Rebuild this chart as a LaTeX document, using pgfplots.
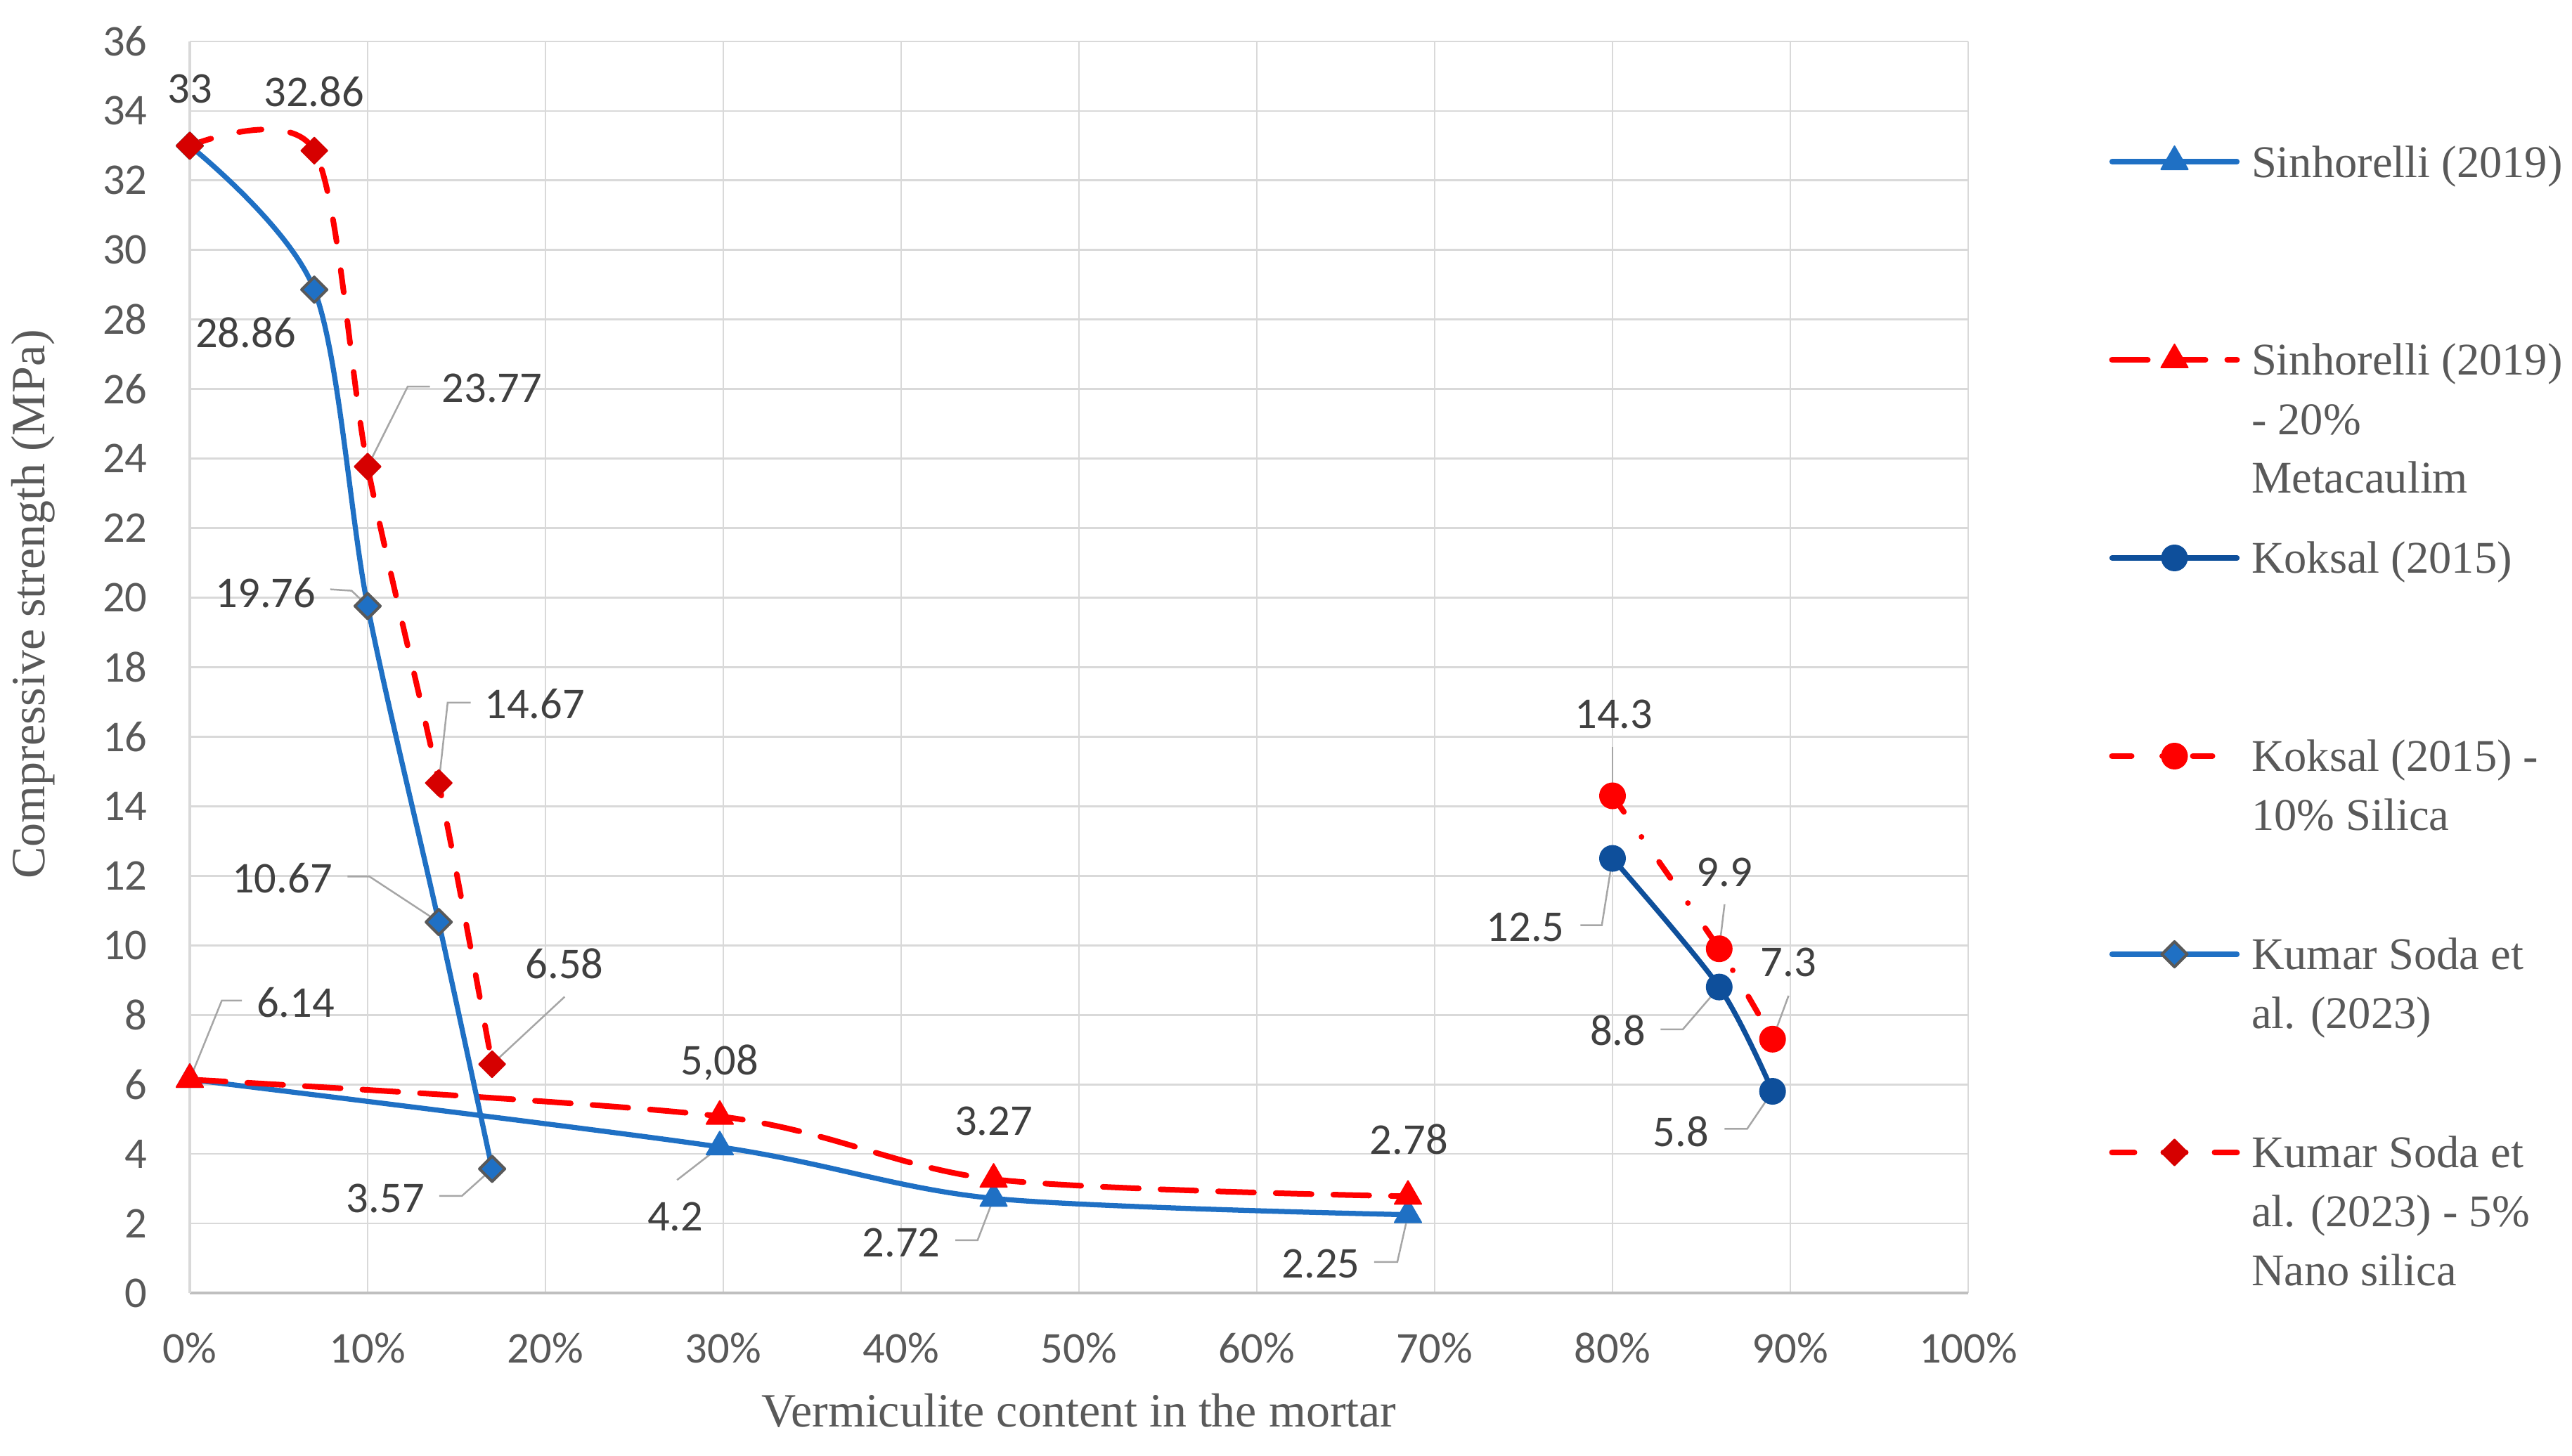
\documentclass[border=0pt]{standalone}
\usepackage{pgfplots}
\pgfplotsset{compat=1.18}
\usepackage{fontspec}
\setmainfont{Liberation Serif}
\newfontfamily\carlito{Carlito}
\definecolor{sblue}{RGB}{31,112,196}
\definecolor{kblue}{RGB}{14,79,155}
\definecolor{myred}{RGB}{255,0,0}
\definecolor{dred}{RGB}{214,0,0}
\definecolor{gridgray}{RGB}{217,217,217}
\definecolor{axisgray}{RGB}{191,191,191}
\definecolor{tickgray}{RGB}{89,89,89}
\definecolor{labgray}{RGB}{64,64,64}
\definecolor{leadgray}{RGB}{166,166,166}
\definecolor{diagray}{RGB}{89,89,89}
\newcommand\lgd[1]{\parbox[t]{100pt}{\raggedright\strut #1}}
\begin{document}
\begin{tikzpicture}[
  lab/.style={font=\carlito\fontsize{12.5}{15}\selectfont, text=labgray, inner sep=0pt, anchor=center, text depth=0pt},
  leader/.style={draw=leadgray, line width=0.5pt}]
\begin{axis}[
  at={(0pt,0pt)}, anchor=south west,
  scale only axis, width=506pt, height=356.2pt,
  xmin=0, xmax=100, ymin=0, ymax=36,
  clip=false,
  axis x line*=bottom, axis y line*=left,
  x axis line style={draw=axisgray, line width=0.9pt, -},
  y axis line style={draw=gridgray, line width=0.7pt, -},
  xtick={0,10,...,100},
  xticklabels={0\%,10\%,20\%,30\%,40\%,50\%,60\%,70\%,80\%,90\%,100\%},
  ytick={0,2,...,36},
  major tick length=0pt,
  grid=major,
  major grid style={draw=gridgray, line width=0.55pt},
  /pgf/number format/assume math mode=true,
  ticklabel style={font=\carlito\fontsize{12.5}{15}\selectfont, text=tickgray, inner sep=0pt},
  xticklabel style={anchor=base, yshift=-20pt},
  yticklabel style={anchor=east, xshift=-11.9pt},
  xlabel={Vermiculite content in the mortar},
  ylabel={Compressive strength (MPa)},
  label style={font=\fontsize{13.6}{16}\selectfont, text=tickgray, inner sep=0pt},
  xlabel style={at={(axis description cs:0.5,-0.10724)}, anchor=base},
  ylabel style={at={(axis description cs:-0.08142,0.5503)}, anchor=base},
  legend style={
    at={(axis description cs:1.07925,0.92476)}, anchor=north west,
    draw=none, fill=none, inner sep=0pt, outer sep=0pt,
    row sep=0pt, column sep=3.3pt,
    font=\fontsize{12.9}{16.8}\selectfont, text=tickgray,
    nodes={inner sep=0pt, outer sep=0pt, text height=11.8pt, text depth=44.6pt},
    cells={anchor=base west},
  },
  legend image code/.code={\draw[mark repeat=2,mark phase=2] plot coordinates {(0pt,4.4pt) (17.8pt,4.4pt) (35.6pt,4.4pt)};},
]
\addplot[sblue, line width=1.45pt, smooth, line cap=round, line join=round, mark=triangle*, mark size=4.4pt, mark options={solid, fill=sblue, draw=sblue, line width=0.4pt}]
  coordinates {(0,6.14) (29.8,4.2) (45.2,2.72) (68.5,2.25)};
\addlegendentry{\lgd{Sinhorelli (2019)}}
\addplot[myred, line width=1.6pt, smooth, line cap=round, line join=round, dash pattern=on 10.2pt off 6.2pt, mark=triangle*, mark size=4.4pt, mark options={solid, fill=myred, draw=myred, line width=0.4pt}]
  coordinates {(0,6.14) (29.8,5.08) (45.2,3.27) (68.5,2.78)};
\addlegendentry{\lgd{Sinhorelli (2019)\\- 20\%\\Metacaulim}}
\addplot[kblue, line width=1.45pt, smooth, line cap=round, line join=round, mark=*, mark size=3.6pt, mark options={solid, fill=kblue, draw=kblue, line width=0.4pt}]
  coordinates {(80,12.5) (86,8.8) (89,5.8)};
\addlegendentry{\lgd{Koksal (2015)}}
\addplot[myred, line width=1.6pt, smooth, line cap=round, line join=round, dash pattern=on 5.6pt off 8.7pt on 0pt off 8.7pt, mark=*, mark size=3.6pt, mark options={solid, fill=myred, draw=myred, line width=0.4pt}]
  coordinates {(80,14.3) (86,9.9) (89,7.3)};
\addlegendentry{\lgd{Koksal (2015) -\\10\% Silica}}
\addplot[sblue, line width=1.45pt, smooth, line cap=round, line join=round, mark=square*, mark size=2.55pt, mark options={solid, rotate=45, fill=sblue, draw=diagray, line width=0.8pt}]
  coordinates {(0,33) (7,28.86) (10,19.76) (14,10.67) (17,3.57)};
\addlegendentry{\lgd{Kumar Soda et\\al. (2023)}}
\addplot[myred, line width=1.6pt, smooth, line cap=round, line join=round, dash pattern=on 6.4pt off 8.2pt, mark=square*, mark size=2.65pt, mark options={solid, rotate=45, fill=dred, draw=dred, line width=0.4pt}]
  coordinates {(0,33) (7,32.86) (10,23.77) (14,14.67) (17,6.58)};
\addlegendentry{\lgd{Kumar Soda et\\al. (2023) - 5\%\\Nano silica}}
% leader lines
\draw[leader] (axis cs:10,23.77) -- (axis cs:12.25,26.07) -- (axis cs:13.5,26.07);
\draw[leader] (axis cs:14,14.67) -- (axis cs:14.5,16.98) -- (axis cs:15.8,16.98);
\draw[leader] (axis cs:17,6.58) -- (axis cs:21.08,8.52);
\draw[leader] (axis cs:7.9,20.24) -- (axis cs:9.1,20.2) -- (axis cs:10,19.76);
\draw[leader] (axis cs:8.87,11.98) -- (axis cs:10.1,11.98) -- (axis cs:14,10.67);
\draw[leader] (axis cs:14.03,2.79) -- (axis cs:15.3,2.79) -- (axis cs:17,3.57);
\draw[leader] (axis cs:0,6.14) -- (axis cs:1.8,8.41) -- (axis cs:2.93,8.41);
\draw[leader] (axis cs:27.4,3.25) -- (axis cs:29.8,4.2);
\draw[leader] (axis cs:43.05,1.52) -- (axis cs:44.3,1.52) -- (axis cs:45.2,2.72);
\draw[leader] (axis cs:66.6,0.89) -- (axis cs:67.9,0.89) -- (axis cs:68.5,2.25);
\draw[leader] (axis cs:80,15.71) -- (axis cs:80,14.3);
\draw[leader] (axis cs:78.2,10.58) -- (axis cs:79.4,10.58) -- (axis cs:80,12.5);
\draw[leader] (axis cs:86.3,11.18) -- (axis cs:86,9.9);
\draw[leader] (axis cs:89.9,8.55) -- (axis cs:89,7.3);
\draw[leader] (axis cs:82.7,7.58) -- (axis cs:83.95,7.58) -- (axis cs:86,8.8);
\draw[leader] (axis cs:86.3,4.72) -- (axis cs:87.57,4.72) -- (axis cs:89,5.8);
% data labels
\node[lab] at (axis cs:0,34.65) {33};
\node[lab] at (axis cs:6.98,34.57) {32.86};
\node[lab] at (axis cs:17.0,26.02) {23.77};
\node[lab] at (axis cs:19.4,16.95) {14.67};
\node[lab] at (axis cs:21.07,9.48) {6.58};
\node[lab] at (axis cs:3.14,27.62) {28.86};
\node[lab] at (axis cs:4.27,20.15) {19.76};
\node[lab] at (axis cs:5.2,11.93) {10.67};
\node[lab] at (axis cs:11.0,2.72) {3.57};
\node[lab] at (axis cs:5.95,8.35) {6.14};
\node[lab] at (axis cs:27.3,2.2) {4.2};
\node[lab] at (axis cs:40.0,1.46) {2.72};
\node[lab] at (axis cs:63.6,0.84) {2.25};
\node[lab] at (axis cs:29.8,6.71) {5,08};
\node[lab] at (axis cs:45.2,4.95) {3.27};
\node[lab] at (axis cs:68.55,4.42) {2.78};
\node[lab] at (axis cs:75.1,10.53) {12.5};
\node[lab] at (axis cs:80.3,7.55) {8.8};
\node[lab] at (axis cs:83.85,4.65) {5.8};
\node[lab] at (axis cs:80.08,16.66) {14.3};
\node[lab] at (axis cs:86.3,12.1) {9.9};
\node[lab] at (axis cs:89.9,9.52) {7.3};
\end{axis}
\pgfresetboundingbox
\path[use as bounding box] (-54pt,-46.4pt) rectangle (677.8pt,368pt);
\end{tikzpicture}
\end{document}
